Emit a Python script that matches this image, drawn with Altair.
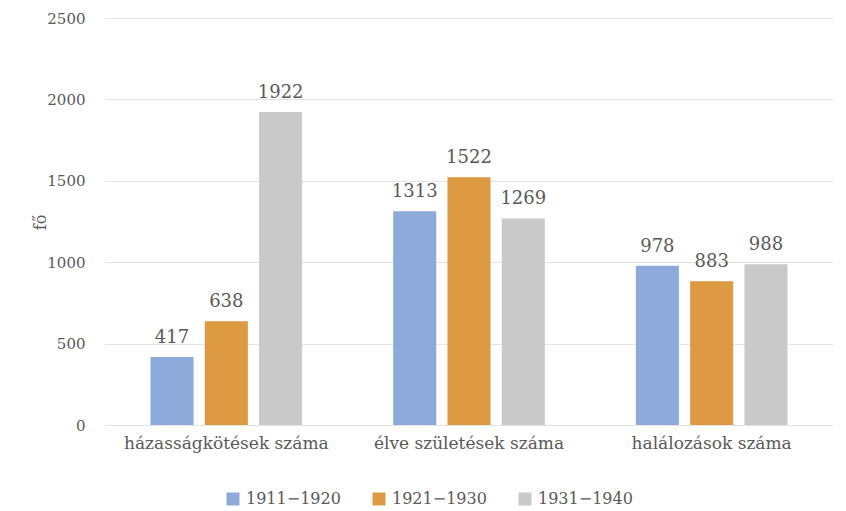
import altair as alt
import pandas as pd

categories = ["házasságkötések száma", "élve születések száma", "halálozások száma"]
periods = ["1911−1920", "1921−1930", "1931−1940"]
values = {
    "1911−1920": [417, 1313, 978],
    "1921−1930": [638, 1522, 883],
    "1931−1940": [1922, 1269, 988],
}
colors = ["#8eaadb", "#dd9a42", "#c9c9c9"]

rows = []
for p in periods:
    for c, v in zip(categories, values[p]):
        rows.append({"cat": c, "period": p, "value": v})
df = pd.DataFrame(rows)

FONT = "DejaVu Serif"
TXT = "#595959"

base = alt.Chart(df).encode(
    x=alt.X("cat:N", sort=categories, title=None,
            scale=alt.Scale(paddingInner=0.375, paddingOuter=0.1875),
            axis=alt.Axis(labelAngle=0, labelFontSize=17, labelFont=FONT, labelLimit=0,
                          labelColor=TXT, domain=False, ticks=False, labelPadding=10)),
    xOffset=alt.XOffset("period:N", sort=periods, scale=alt.Scale(paddingInner=0.207)),
)

bars = base.mark_bar().encode(
    y=alt.Y("value:Q", title="fő", scale=alt.Scale(domain=[0, 2500], nice=False),
            axis=alt.Axis(values=[0, 500, 1000, 1500, 2000, 2500], format="d",
                          labelFontSize=15, labelColor=TXT, labelFont=FONT,
                          titleFontSize=16, titleColor=TXT, titleFontWeight="normal",
                          titleFont=FONT, titleX=-65, titleY=204,
                          titleAlign="center", titleBaseline="middle",
                          domain=False, ticks=False, labelPadding=20,
                          gridColor="#e3e3e3")),
    color=alt.Color("period:N", sort=periods, title=None,
                    scale=alt.Scale(domain=periods, range=colors),
                    legend=alt.Legend(orient="none", direction="horizontal",
                                      legendX=120, legendY=473, labelLimit=0,
                                      labelFontSize=16, labelColor=TXT, labelFont=FONT,
                                      labelOffset=5,
                                      symbolType="square", symbolSize=169,
                                      symbolStrokeWidth=0, columnPadding=30)),
)

labels = base.mark_text(baseline="bottom", dy=-10, fontSize=18, color=TXT, font=FONT).encode(
    y="value:Q",
    text="value:Q",
)

chart = (bars + labels).properties(
    width=728, height=407,
    padding={"left": 97, "top": 10, "right": 0, "bottom": 88},
    autosize=alt.AutoSizeParams(type="none"),
).configure_view(stroke=None)

chart.save("out.html", embed_options={"renderer": "svg", "actions": False})
